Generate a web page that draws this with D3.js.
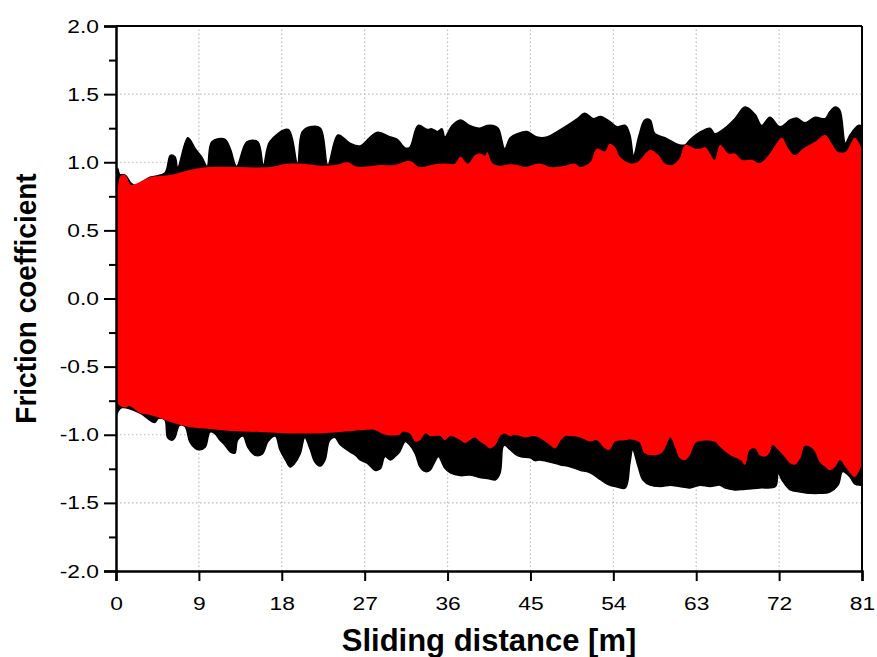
<!DOCTYPE html>
<html>
<head>
<meta charset="utf-8">
<script src="https://cdn.jsdelivr.net/npm/d3@7"></script>
<style>
  body { margin: 0; background: #fff; }
  svg text { font-family: "Liberation Sans", Arial, sans-serif; fill: #000; }
</style>
</head>
<body>
<div id="chart-area"></div>
<script>
// tick values
var xTicks = [0, 9, 18, 27, 36, 45, 54, 63, 72, 81];
var yTicks = [-2.0, -1.5, -1.0, -0.5, 0.0, 0.5, 1.0, 1.5, 2.0];
var yMinorTicks = [-1.75, -1.25, -0.75, -0.25, 0.25, 0.75, 1.25, 1.75];

// envelopes: [sliding distance (m), friction coefficient]
var blackUpper = [[0,0.96],[0.2,0.95],[0.4,0.91],[1.0,0.906],[1.6,0.85],[2.1,0.83],[3.7,0.89],[5.3,0.92],[5.9,1.05],[6.4,1.04],[6.7,0.96],[7.8,1.18],[8.6,1.10],[9.3,1.04],[9.9,0.97],[10.4,1.15],[11.8,1.17],[12.4,1.10],[13.1,0.97],[14.2,1.15],[15.4,1.15],[16.0,0.98],[16.7,1.15],[18.7,1.24],[19.7,0.99],[20.2,1.22],[21.1,1.26],[22.2,1.25],[23.0,0.98],[24.1,1.20],[25.4,1.14],[26.5,1.12],[27.6,1.185],[28.4,1.22],[29.8,1.185],[30.5,1.17],[31.4,1.105],[31.9,1.11],[32.8,1.27],[33.8,1.24],[34.3,1.245],[34.9,1.225],[35.4,1.245],[35.7,1.185],[36.5,1.27],[37.4,1.31],[38.4,1.27],[39.5,1.25],[40.3,1.27],[40.9,1.27],[41.5,1.25],[42.2,1.10],[42.8,1.18],[43.6,1.21],[44.6,1.225],[45.7,1.185],[46.8,1.185],[47.9,1.225],[49.0,1.27],[50.1,1.32],[50.9,1.36],[51.8,1.32],[52.6,1.335],[53.6,1.30],[54.4,1.26],[55.3,1.27],[55.8,1.2],[56.2,1.05],[56.8,1.2],[57.4,1.31],[58.0,1.31],[58.5,1.21],[59.6,1.18],[60.7,1.14],[61.2,1.127],[61.8,1.127],[62.3,1.163],[63.4,1.22],[64.5,1.25],[65.0,1.21],[66.1,1.25],[67.2,1.32],[68.3,1.405],[69.4,1.35],[70.1,1.27],[71.0,1.33],[72.1,1.26],[73.2,1.31],[73.9,1.325],[74.8,1.29],[75.9,1.33],[77.0,1.32],[77.5,1.37],[78.1,1.405],[78.6,1.38],[79.2,1.14],[79.7,1.20],[80.6,1.27],[81.0,1.26]];

var blackLower = [[0,-0.855],[0.3,-0.82],[0.65,-0.80],[2.6,-0.84],[4.2,-0.91],[4.6,-0.88],[5.3,-0.89],[5.6,-1.02],[6.1,-1.04],[6.4,-1.02],[6.9,-0.93],[7.5,-0.94],[8.0,-1.05],[8.6,-1.10],[9.1,-1.11],[9.7,-1.09],[10.2,-0.98],[10.7,-0.99],[11.3,-1.04],[11.8,-1.075],[12.4,-1.125],[12.9,-1.135],[13.2,-1.04],[13.8,-1.01],[14.3,-1.09],[15.1,-1.15],[15.9,-1.14],[16.5,-1.05],[17.3,-1.01],[17.8,-1.11],[18.4,-1.185],[18.9,-1.236],[19.4,-1.21],[20.0,-1.14],[20.5,-1.02],[21.1,-1.11],[21.6,-1.2],[22.2,-1.23],[22.7,-1.185],[23.2,-1.04],[23.8,-1.02],[24.3,-1.07],[25.4,-1.125],[26.0,-1.15],[26.5,-1.185],[27.3,-1.21],[28.1,-1.26],[28.7,-1.25],[29.2,-1.16],[29.8,-1.185],[30.3,-1.16],[30.8,-1.125],[31.4,-1.05],[31.9,-1.075],[32.5,-1.14],[33.0,-1.235],[33.6,-1.27],[34.1,-1.26],[34.6,-1.2],[35.0,-1.16],[35.7,-1.245],[36.3,-1.28],[37.4,-1.30],[38.4,-1.295],[39.3,-1.31],[40.1,-1.32],[40.6,-1.325],[41.2,-1.33],[41.7,-1.28],[42.0,-1.09],[42.2,-1.075],[42.8,-1.11],[43.3,-1.14],[43.9,-1.16],[45.0,-1.17],[45.5,-1.19],[46.0,-1.185],[47.1,-1.2],[48.2,-1.22],[49.3,-1.235],[50.4,-1.26],[51.5,-1.28],[52.6,-1.33],[53.6,-1.37],[54.2,-1.38],[55.3,-1.39],[55.8,-1.21],[56.1,-1.11],[56.7,-1.235],[57.2,-1.33],[58.0,-1.37],[59.1,-1.38],[60.2,-1.37],[61.2,-1.38],[62.3,-1.39],[63.4,-1.37],[64.5,-1.38],[65.6,-1.37],[66.1,-1.39],[67.2,-1.405],[68.3,-1.40],[69.9,-1.39],[71.6,-1.38],[71.9,-1.28],[72.3,-1.33],[73.2,-1.405],[74.3,-1.42],[75.4,-1.43],[76.4,-1.43],[77.5,-1.42],[78.4,-1.37],[78.9,-1.27],[79.7,-1.31],[80.2,-1.36],[80.8,-1.37],[81.0,-1.37]];

var redUpper = [[0,0.74],[0.2,0.82],[0.5,0.90],[1.0,0.906],[1.6,0.835],[2.1,0.84],[3.7,0.89],[5.9,0.906],[8.0,0.943],[10.2,0.965],[16.7,0.965],[18.4,0.987],[20.0,0.99],[22.2,0.975],[23.8,0.98],[25.2,1.0],[26.0,0.97],[26.5,0.965],[28.7,0.98],[30.3,0.98],[31.9,1.01],[33.0,0.965],[34.6,0.985],[35.7,0.99],[36.8,0.99],[37.4,1.04],[38.2,0.99],[39.0,1.053],[39.5,1.065],[40.1,1.05],[40.3,1.075],[40.9,0.99],[41.7,0.975],[42.8,0.985],[43.6,0.98],[44.4,0.965],[46.0,0.99],[47.1,0.965],[48.8,0.975],[49.8,0.99],[50.4,0.965],[51.5,1.0],[52.2,1.10],[53.1,1.08],[53.6,1.135],[54.2,1.11],[54.7,1.04],[55.8,0.993],[56.6,1.0],[58.0,1.09],[58.9,1.053],[59.6,0.99],[60.4,0.98],[61.2,1.03],[61.8,1.127],[62.9,1.10],[63.4,1.10],[64.0,1.11],[64.5,1.065],[65.0,1.017],[65.6,1.127],[66.5,1.065],[67.2,1.065],[68.0,1.017],[69.1,1.017],[69.9,0.994],[71.0,1.065],[71.6,1.127],[72.3,1.18],[73.0,1.10],[73.7,1.053],[74.6,1.10],[75.9,1.15],[77.0,1.20],[77.7,1.14],[78.4,1.075],[79.2,1.075],[79.7,1.127],[80.2,1.18],[80.8,1.127],[81.0,1.08]];

var redLower = [[0,-0.72],[0.3,-0.78],[1.0,-0.80],[1.5,-0.79],[2.6,-0.84],[3.7,-0.855],[4.8,-0.877],[5.9,-0.906],[8.0,-0.943],[10.2,-0.958],[12.4,-0.972],[15.6,-0.98],[18.9,-0.99],[22.2,-0.99],[24.3,-0.98],[27.0,-0.965],[28.1,-0.965],[29.2,-1.0],[30.8,-1.0],[31.1,-0.98],[31.9,-0.99],[32.5,-1.05],[33.0,-1.04],[33.6,-0.99],[34.1,-1.01],[35.2,-1.01],[35.7,-1.04],[36.3,-1.01],[37.4,-1.04],[37.9,-1.06],[38.4,-1.04],[39.0,-1.02],[39.5,-1.05],[40.1,-1.075],[40.6,-1.10],[41.2,-1.075],[41.7,-1.01],[42.2,-0.99],[42.8,-1.01],[43.3,-1.0],[43.9,-1.01],[44.4,-1.02],[45.5,-1.01],[46.6,-1.05],[47.1,-1.075],[47.7,-1.10],[48.2,-1.05],[48.8,-1.01],[49.5,-1.01],[50.4,-1.02],[51.5,-1.05],[52.2,-1.04],[53.1,-1.10],[53.6,-1.11],[54.2,-1.05],[55.3,-1.04],[55.8,-1.035],[56.4,-1.04],[56.9,-1.06],[57.4,-1.135],[58.5,-1.15],[59.1,-1.14],[59.6,-1.10],[60.2,-1.02],[60.7,-1.09],[61.2,-1.17],[61.8,-1.185],[62.3,-1.15],[62.9,-1.06],[63.4,-1.045],[65.0,-1.05],[65.6,-1.09],[66.7,-1.15],[67.8,-1.185],[68.3,-1.22],[68.8,-1.11],[69.4,-1.10],[69.9,-1.15],[70.5,-1.16],[71.0,-1.125],[71.3,-1.075],[71.9,-1.11],[72.7,-1.17],[73.2,-1.21],[73.7,-1.22],[74.3,-1.17],[74.8,-1.08],[75.4,-1.09],[75.9,-1.125],[76.4,-1.2],[77.0,-1.235],[77.5,-1.26],[78.1,-1.235],[78.6,-1.185],[79.2,-1.235],[79.7,-1.28],[80.2,-1.31],[80.8,-1.25],[81.0,-1.2]];

var width = 877, height = 657;
var margin = {top: 26, right: 15, bottom: 86, left: 116};
var labelStretch = 1.2; // tick labels in the original are drawn wide

var x = d3.scaleLinear().domain([0, 81]).range([margin.left, width - margin.right]);
var y = d3.scaleLinear().domain([-2, 2]).range([height - margin.bottom, margin.top]);

var svg = d3.select("#chart-area").append("svg")
    .attr("width", width)
    .attr("height", height);

svg.append("clipPath").attr("id", "plot-clip")
  .append("rect")
    .attr("x", x.range()[0])
    .attr("y", y.range()[1])
    .attr("width", x.range()[1] - x.range()[0])
    .attr("height", y.range()[0] - y.range()[1]);

// dotted grid
svg.append("g").selectAll("line").data(xTicks.slice(1, -1)).enter()
  .append("line")
    .attr("x1", function(d){ return x(d); })
    .attr("x2", function(d){ return x(d); })
    .attr("y1", y(-2)).attr("y2", y(2))
    .attr("stroke", "#bcbcbc").attr("stroke-width", 1.2)
    .attr("stroke-dasharray", "1.5,2.5");
svg.append("g").selectAll("line").data(yTicks.slice(1, -1)).enter()
  .append("line")
    .attr("x1", x(0)).attr("x2", x(81))
    .attr("y1", function(d){ return y(d); })
    .attr("y2", function(d){ return y(d); })
    .attr("stroke", "#bcbcbc").attr("stroke-width", 1.2)
    .attr("stroke-dasharray", "1.5,2.5");

// closed band: upper edge left to right, lower edge back
function band(upper, lower){
    var pts = upper.concat(lower.slice().reverse());
    return d3.line()
        .x(function(d){ return x(d[0]); })
        .y(function(d){ return y(d[1]); })
        .curve(d3.curveCatmullRomClosed.alpha(0.5))(pts);
}

var plot = svg.append("g").attr("clip-path", "url(#plot-clip)");
plot.append("path")
    .attr("d", band(blackUpper, blackLower))
    .attr("fill", "#000")
    .attr("stroke", "#000")
    .attr("stroke-width", 1.5);
plot.append("path")
    .attr("d", band(redUpper, redLower))
    .attr("fill", "#ff0000");

// frame: top and right
svg.append("line")
    .attr("x1", x(0)).attr("x2", x(81)).attr("y1", y(2)).attr("y2", y(2))
    .attr("stroke", "#000").attr("stroke-width", 2);
svg.append("line")
    .attr("x1", x(81)).attr("x2", x(81)).attr("y1", y(2)).attr("y2", y(-2))
    .attr("stroke", "#000").attr("stroke-width", 2);

// y axis
var yAxis = svg.append("g")
    .attr("transform", "translate(" + x(0) + ",0)")
    .call(d3.axisLeft(y).tickValues(yTicks).tickSize(12).tickPadding(5)
        .tickFormat(function(d){ return d.toFixed(1); }));
svg.append("g")
    .attr("transform", "translate(" + x(0) + ",0)")
    .call(d3.axisLeft(y).tickValues(yMinorTicks).tickSize(7).tickFormat(""))
    .select(".domain").remove();

// x axis
var xAxis = svg.append("g")
    .attr("transform", "translate(0," + y(-2) + ")")
    .call(d3.axisBottom(x).tickValues(xTicks).tickSize(10).tickPadding(16)
        .tickFormat(function(d){ return d; }));

svg.selectAll(".domain").attr("stroke-width", 2.5);
svg.selectAll(".tick line").attr("stroke-width", 2);
svg.selectAll(".tick text")
    .attr("font-size", 19)
    .attr("font-family", "'Liberation Sans', Arial, sans-serif");

// widen the labels; keep the y labels' right edge in place
yAxis.selectAll(".tick text")
    .attr("x", -17 / labelStretch)
    .attr("transform", "scale(" + labelStretch + ",1)");
xAxis.selectAll(".tick text")
    .attr("transform", "scale(" + labelStretch + ",1)");

// axis titles
svg.append("text")
    .attr("transform", "translate(36," + y(0) + ") rotate(-90) scale(1,1.08)")
    .attr("text-anchor", "middle")
    .attr("font-size", 28)
    .attr("font-weight", "bold")
    .text("Friction coefficient");

svg.append("text")
    .attr("x", (x(0) + x(81)) / 2)
    .attr("y", 651)
    .attr("text-anchor", "middle")
    .attr("font-size", 31)
    .attr("font-weight", "bold")
    .text("Sliding distance [m]");
</script>
</body>
</html>
